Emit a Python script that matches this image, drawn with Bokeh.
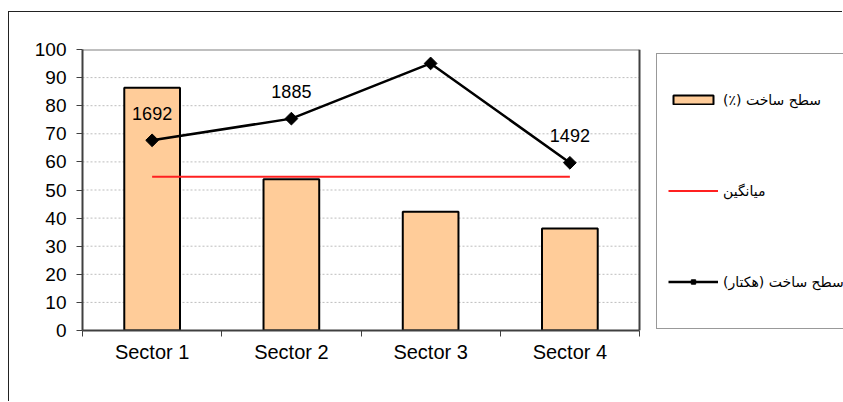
import numpy as np
from bokeh.plotting import figure
from bokeh.models import (Range1d, LinearAxis, FixedTicker, Legend, LegendItem,
                          ColumnDataSource, Span)
from bokeh.core.properties import value
from bokeh.embed import file_html
from bokeh.resources import INLINE

# ---- data ----
sectors = ["Sector 1", "Sector 2", "Sector 3", "Sector 4"]
built_pct = [86.4, 53.8, 42.3, 36.3]          # سطح ساخت (٪)
built_ha = [1692, 1885, 2376, 1492]           # سطح ساخت (هکتار)
y_ticks = [0, 10, 20, 30, 40, 50, 60, 70, 80, 90, 100]
legend_labels = ["سطح ساخت (٪)", "میانگین", "سطح ساخت (هکتار)"]

n = len(sectors)
xs = list(np.arange(n) + 0.5)
avg = float(np.mean(built_pct))

RLM = "\u200f"

# the frame spans the legend area too; the data area is x in [0, n]
x_end = n * (834 - 73) / 557.0

p = figure(width=834, height=390, output_backend="svg", toolbar_location=None,
           x_range=Range1d(0, x_end), y_range=Range1d(0, 100),
           min_border_left=73, min_border_top=37, min_border_bottom=72,
           min_border_right=0, x_axis_type=None, y_axis_type=None,
           margin=(11, 0, 0, 8))
p.styles = {"border-top": "1px solid #222", "border-left": "1px solid #222"}
p.extra_y_ranges = {"ha": Range1d(0, 2500)}
p.background_fill_color = "white"
p.border_fill_color = "white"
p.outline_line_color = None
p.xgrid.visible = False
p.ygrid.visible = False

# axes
yax = LinearAxis(ticker=FixedTicker(ticks=y_ticks, minor_ticks=[]))
yax.axis_line_color = "#404040"
yax.axis_line_width = 2
yax.major_tick_line_color = "#404040"
yax.major_tick_in = 0
yax.major_tick_out = 6
yax.major_label_standoff = 10
yax.major_label_text_font = "Liberation Sans"
yax.major_label_text_font_size = "19px"
yax.major_label_text_color = "black"
p.add_layout(yax, "left")

xax = LinearAxis(ticker=FixedTicker(ticks=xs, minor_ticks=list(range(n + 1))),
                 bounds=(0, n))
xax.major_label_overrides = {float(x): s for x, s in zip(xs, sectors)}
xax.axis_line_color = "#404040"
xax.axis_line_width = 2
xax.major_tick_in = 0
xax.major_tick_out = 0
xax.minor_tick_in = 0
xax.minor_tick_out = 6
xax.minor_tick_line_color = "#404040"
xax.major_label_standoff = 4
xax.major_label_text_font = "Liberation Sans"
xax.major_label_text_font_size = "20px"
xax.major_label_text_color = "black"
p.add_layout(xax, "below")

# dotted grid and plot-area border limited to the data area
gy = y_ticks[1:-1]
p.segment(x0=[0] * len(gy), x1=[n] * len(gy), y0=gy, y1=gy,
          line_color="#bdbdbd", line_dash="2 2", line_width=1)
p.segment(x0=[0], x1=[n], y0=[y_ticks[-1]], y1=[y_ticks[-1]],
          line_color="#808080", line_width=2)
p.add_layout(Span(location=n, dimension="height", line_color="#404040", line_width=2))

# bars
src = ColumnDataSource(dict(x=xs, pct=built_pct, ha=built_ha,
                            lbl=[str(v) for v in built_ha]))
bars = p.vbar(x="x", top="pct", width=0.4, source=src,
              fill_color="#ffcc99", line_color="black", line_width=2)

# mean line
mean_r = p.line(x=[xs[0], xs[-1]], y=[avg, avg], line_color="#ff2020", line_width=2)

# hectare line (secondary scale)
ha_line = p.line(x="x", y="ha", source=src, y_range_name="ha",
                 line_color="black", line_width=2.5)
ha_pts = p.scatter(x="x", y="ha", source=src, y_range_name="ha", marker="square",
                   angle=np.pi / 4, size=9, fill_color="black", line_color="black")
p.text(x="x", y="ha", text="lbl", source=src, y_range_name="ha",
       text_align="center", text_baseline="middle", y_offset=-27,
       text_font=value("Liberation Sans"), text_font_size="18px", text_color="black")

legend = Legend(items=[
    LegendItem(label=legend_labels[0] + RLM, renderers=[bars]),
    LegendItem(label=legend_labels[1] + RLM, renderers=[mean_r]),
    LegendItem(label=legend_labels[2] + RLM, renderers=[ha_line, ha_pts]),
], location=(574, 1.5))
legend.ncols = 1
legend.glyph_width = 50
legend.glyph_height = 11
legend.label_height = 70
legend.label_width = 150
legend.label_standoff = 5
legend.padding = 11
legend.spacing = 21
legend.margin = 0
legend.border_line_color = "#333333"
legend.border_line_width = 1.5
legend.background_fill_color = "white"
legend.label_text_font = "DejaVu Sans"
legend.label_text_font_size = "14px"
legend.label_text_color = "black"
p.add_layout(legend, "center")

open("out.html", "w").write(file_html(p, INLINE))
